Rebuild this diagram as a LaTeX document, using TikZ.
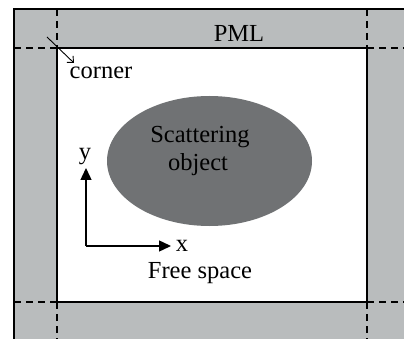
\documentclass[tikz,border=0pt]{standalone}
\usepackage{fontspec}
\setmainfont{Liberation Serif}
\usetikzlibrary{arrows.meta}
\definecolor{pmlgray}{RGB}{185,188,189}
\definecolor{objgray}{RGB}{112,114,116}
\begin{document}
\begin{tikzpicture}[x=1pt,y=-1pt,
  lbl/.style={inner sep=0pt,anchor=base,font=\fontsize{24.5}{28}\selectfont},
  edge/.style={line width=2pt,black},
  split/.style={line width=1.8pt,dash pattern=on 7pt off 5pt},
  axis/.style={line width=1.4pt,-{Triangle[length=12pt,width=11pt]}},
  pointer/.style={line width=0.9pt,-{Straight Barb[length=5pt,width=9pt]}}]
  \useasboundingbox (0,0) rectangle (404,339);
  % absorbing layer and free-space region
  \fill[pmlgray] (14,9) rectangle (404,339);
  \fill[white] (57,48) rectangle (367,302);
  \draw[edge] (14,339) -- (14,9) -- (404,9);
  \draw[edge] (57,48) rectangle (367,302);
  % layer boundaries
  \draw[split] (57,9) -- (57,48);
  \draw[split] (367,9) -- (367,48);
  \draw[split] (57,302) -- (57,339);
  \draw[split] (367,302) -- (367,339);
  \draw[split] (14,48) -- (57,48);
  \draw[split] (367,48) -- (404,48);
  \draw[split] (14,302) -- (57,302);
  \draw[split] (367,302) -- (404,302);
  % scatterer
  \fill[objgray] (209.5,161) ellipse [x radius=102.5, y radius=65];
  \node[lbl] (scat) at (200,143) {Scattering};
  \node[lbl] (obj) at (198,171) {object};
  % labels
  \node[lbl] (pml) at (239,42) {PML};
  \node[lbl] (corner) at (101,79) {corner};
  \node[lbl] (free) at (200,278) {Free space};
  % coordinate axes
  \coordinate (o) at (86,246);
  \coordinate (ytip) at (86,168);
  \coordinate (xtip) at (171,246);
  \draw[axis] (o) -- (ytip);
  \draw[axis] (o) -- (xtip);
  \node[lbl] (ylab) at (85,160) {y};
  \node[lbl] (xlab) at (182,251) {x};
  % corner pointer
  \coordinate (ptail) at (47,37);
  \coordinate (phead) at (74,63);
  \draw[pointer] (ptail) -- (phead);
\end{tikzpicture}
\end{document}
